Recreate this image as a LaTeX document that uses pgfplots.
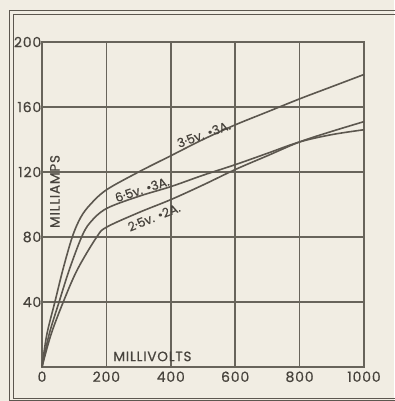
\documentclass[border=0pt]{standalone}
\usepackage{pgfplots}
\pgfplotsset{compat=1.18}
\usepackage{fontspec}
\setmainfont{Poppins}[FakeBold=0.6]
\newfontfamily\lblfont{Poppins}[FakeBold=0.6, LetterSpace=6]
\definecolor{bg}{HTML}{F1EDE3}
\definecolor{ink}{HTML}{5C574F}
\definecolor{gridc}{HTML}{68645B}
\definecolor{txt}{HTML}{47433D}
\begin{document}
\begin{tikzpicture}[x=1pt,y=1pt]
\fill[bg] (-42,-34) rectangle (352,367);
\useasboundingbox (-42,-34) rectangle (352,367);
\draw[ink, line width=0.9pt] (-33,-33) rectangle (420,357);
\draw[ink, line width=0.9pt] (-28.5,-31) rectangle (415,353);
\begin{axis}[
  at={(0,0)}, anchor=south west,
  scale only axis, width=322pt, height=325pt,
  xmin=0, xmax=1000, ymin=0, ymax=200,
  xtick={0,200,400,600,800,1000},
  ytick={40,80,120,160,200},
  grid=major,
  major grid style={gridc, line width=1.5pt},
  axis line style={gridc, line width=1.5pt},
  major tick length=0pt,
  tick label style={font=\lblfont\fontsize{14}{16}\selectfont, text=txt},
  /pgf/number format/assume math mode=true,
  /pgf/number format/1000 sep={},
  yticklabel style={inner sep=0.5pt},
  xticklabel style={yshift=-1pt},
  clip=false,
]
\addplot[ink, line width=1.6pt, smooth, tension=0.55] coordinates {
(0,0) (15,20) (40,40) (65,60) (94,80) (120,92) (150,100) (200,109) (300,120)
(400,130) (500,140) (600,149) (700,157) (800,165) (900,172.5) (1000,180)};
\addplot[ink, line width=1.6pt, smooth, tension=0.55] coordinates {
(0,0) (22,20) (53,40) (85,60) (123,80) (150,89) (200,97.5) (300,105) (400,111)
(500,118) (600,124.5) (700,131.5) (800,138.5) (900,143) (1000,146)};
\addplot[ink, line width=1.6pt, smooth, tension=0.55] coordinates {
(0,0) (28,20) (66,40) (110,60) (170,80) (200,86) (300,95) (400,103)
(500,112) (600,121.5) (700,130) (800,138.5) (900,145) (1000,151)};
\node[font=\fontsize{12.5}{14}\selectfont, text=txt, rotate=20, anchor=south, inner sep=0.8pt] at (axis cs:508,140) {3·5v. •3A.};
\node[font=\fontsize{12.5}{14}\selectfont, text=txt, rotate=18, anchor=south, inner sep=0.8pt] at (axis cs:316,106) {6·5v. •3A.};
\node[font=\fontsize{12.5}{14}\selectfont, text=txt, rotate=22, anchor=north, inner sep=1.8pt] at (axis cs:340,96) {2·5v. •2A.};
\node[font=\lblfont\fontsize{13.5}{15}\selectfont, text=txt, rotate=90] at (axis cs:40,108) {MILLIAMPS};
\node[font=\lblfont\fontsize{13.5}{15}\selectfont, text=txt] at (axis cs:343,6.5) {MILLIVOLTS};
\end{axis}
\end{tikzpicture}
\end{document}
